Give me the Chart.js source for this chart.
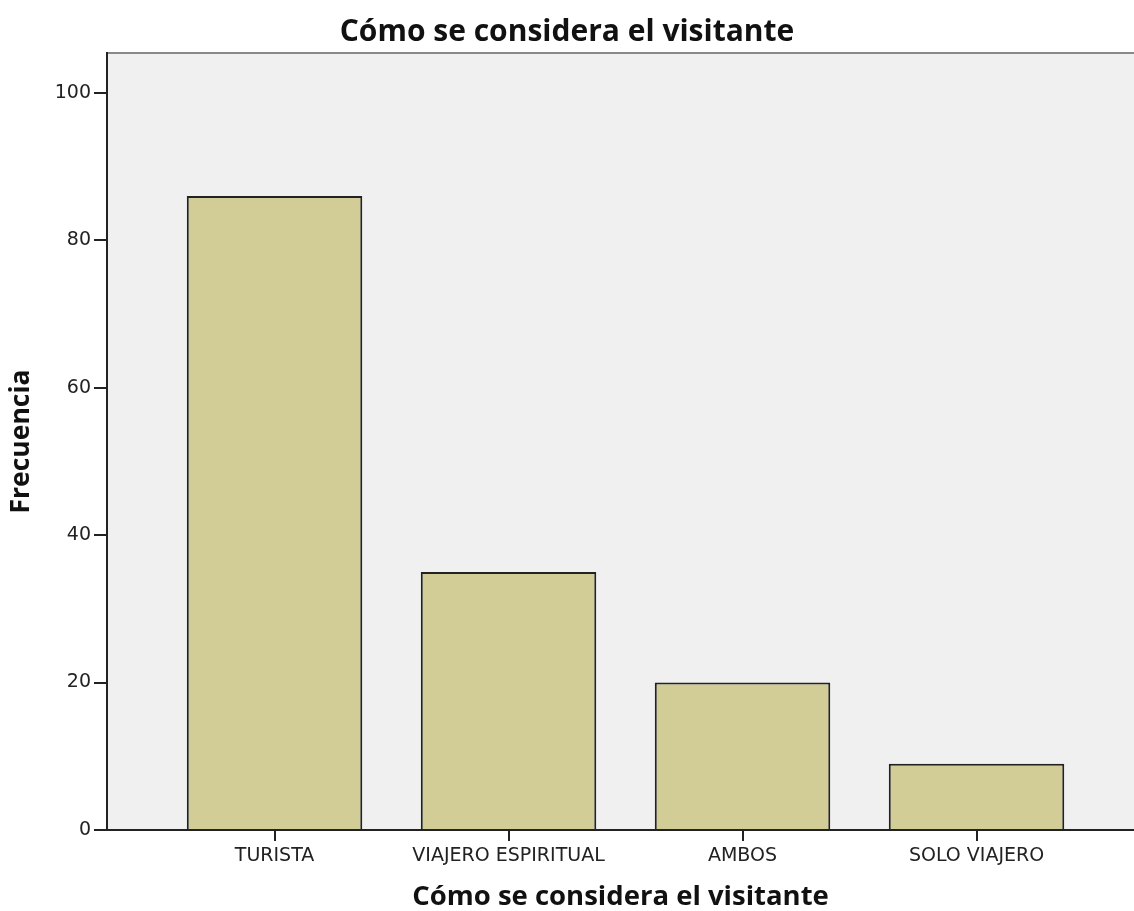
<!DOCTYPE html>
<html>
<head>
<meta charset="utf-8">
<script src="https://cdn.jsdelivr.net/npm/chart.js@4.4.0/dist/chart.umd.min.js"></script>
<style>
  body{margin:0;background:#fff;}
  #wrap{width:1134px;height:911px;}
</style>
</head>
<body>
<div id="wrap"><canvas id="chart"></canvas></div>
<script>
const categories=["TURISTA","VIAJERO ESPIRITUAL","AMBOS","SOLO VIAJERO"];
const frecuencia=[86,35,20,9];
const yTicks=[0,20,40,60,80,100];

// grey plot background + thin top frame line
const plotBg={
  id:"plotBg",
  beforeDraw(chart){
    const {ctx,chartArea:a}=chart;
    ctx.save();
    ctx.fillStyle="#f0f0f0";
    ctx.fillRect(a.left,a.top,a.right-a.left,a.bottom-a.top);
    ctx.strokeStyle="#888";
    ctx.lineWidth=2;
    ctx.beginPath(); ctx.moveTo(a.left,a.top); ctx.lineTo(a.right,a.top); ctx.stroke();
    ctx.restore();
  }
};

new Chart(document.getElementById("chart"),{
  type:"bar",
  data:{
    datasets:[{
      label:"Frecuencia",
      data:categories.map((c,i)=>({x:i,y:frecuencia[i]})),
      backgroundColor:"rgb(210,205,150)",
      borderColor:"#222",
      borderWidth:2,
      categoryPercentage:1,
      barPercentage:0.75
    }]
  },
  options:{
    responsive:true,
    maintainAspectRatio:false,
    animation:false,
    layout:{padding:0},
    plugins:{
      legend:{display:false},
      tooltip:{enabled:false},
      title:{
        display:true,
        text:"Cómo se considera el visitante",
        color:"#111",
        font:{family:"'Open Sans'",size:30,weight:"bold",lineHeight:1.1},
        padding:{top:16,bottom:4}
      }
    },
    scales:{
      x:{
        type:"linear",
        offset:false,
        min:-0.716,
        max:3.673,
        afterBuildTicks(s){ s.ticks=categories.map((c,i)=>({value:i})); },
        afterFit(s){ s.height=81; },
        grid:{display:true,drawOnChartArea:false,offset:false,tickLength:11,color:"#222",lineWidth:2},
        border:{display:true,color:"#222",width:2},
        ticks:{
          autoSkip:false,maxRotation:0,padding:4,color:"#222",
          font:{family:"'DejaVu Sans'",size:19},
          callback:v=>categories[v]
        },
        title:{
          display:true,
          text:"Cómo se considera el visitante",
          color:"#111",
          font:{family:"'Open Sans'",size:27.5,weight:"bold",lineHeight:1},
          padding:{top:0,bottom:0}
        }
      },
      y:{
        min:0,
        max:105.4,
        afterBuildTicks(s){ s.ticks=yTicks.map(v=>({value:v})); },
        afterFit(s){ s.width=107; },
        grid:{display:true,drawOnChartArea:false,tickLength:13,color:"#222",lineWidth:2},
        border:{display:true,color:"#222",width:2},
        ticks:{padding:3,color:"#222",font:{family:"'DejaVu Sans'",size:19}},
        title:{
          display:true,
          text:"Frecuencia",
          color:"#111",
          font:{family:"'Open Sans'",size:26.5,weight:"bold",lineHeight:1},
          padding:{top:8,bottom:0}
        }
      }
    }
  },
  plugins:[plotBg]
});
</script>
</body>
</html>
